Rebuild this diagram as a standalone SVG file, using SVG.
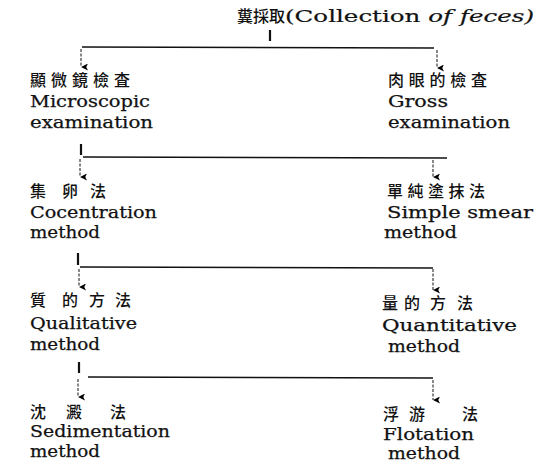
<svg xmlns="http://www.w3.org/2000/svg" width="540" height="464" viewBox="0 0 540 464">
<defs>
<marker id="ah" viewBox="0 0 8 8" refX="4" refY="8" markerWidth="7" markerHeight="7" markerUnits="userSpaceOnUse" orient="auto-start-reverse">
<path d="M0,0 L4,8 L8,0 L4,2 Z" fill="#000"/>
</marker>
<style>
.cjk{font-family:"Noto Sans CJK TC","Noto Sans CJK JP",sans-serif;font-size:16px;font-weight:500;fill:#111}
.en{font-family:"DejaVu Serif","Liberation Serif",serif;font-size:16.5px;fill:#111;stroke:#111;stroke-width:0.25}
.ti{font-family:"DejaVu Serif","Liberation Serif",serif;font-size:17px;fill:#111;stroke:#111;stroke-width:0.2}
.h{stroke:#111;stroke-width:1.5;fill:none}
.t{stroke:#111;stroke-width:2.2;fill:none}
.a{stroke:#111;stroke-width:1;stroke-dasharray:3 1.5;fill:none;marker-end:url(#ah)}
</style>
</defs>
<rect width="540" height="464" fill="#fff"/>
<g id="connectors">
<line class="t" x1="270" y1="30" x2="270" y2="41"/>
<path class="h" d="M82,47 L434,48"/>
<line class="a" x1="81" y1="49" x2="81" y2="67"/>
<line class="a" x1="437" y1="50" x2="437" y2="68"/>
<line class="t" x1="81" y1="144" x2="81" y2="155"/>
<path class="h" d="M83,157 L447,158"/>
<line class="a" x1="80" y1="159" x2="80" y2="177"/>
<line class="a" x1="433" y1="160" x2="433" y2="177"/>
<line class="t" x1="78" y1="253" x2="78" y2="265"/>
<path class="h" d="M80,267 L433,268"/>
<line class="a" x1="79" y1="269" x2="79" y2="287"/>
<line class="a" x1="433" y1="269" x2="433" y2="290"/>
<line class="t" x1="79" y1="362" x2="79" y2="373"/>
<path class="h" d="M88,377 L433,378"/>
<line class="a" x1="78" y1="379" x2="78" y2="397"/>
<line class="a" x1="433" y1="380" x2="433" y2="400"/>
</g>
<g id="n-collection">
<text class="cjk" x="237" y="22">糞採取</text>
<text class="ti" x="285" y="22" textLength="249" lengthAdjust="spacingAndGlyphs">(Collection <tspan font-style="italic">of feces)</tspan></text>
</g>
<g id="n-microscopic">
<text class="cjk" x="30" y="86" textLength="100">顯微鏡檢査</text>
<text class="en" x="30" y="107" textLength="120" lengthAdjust="spacingAndGlyphs">Microscopic</text>
<text class="en" x="30" y="128" textLength="123" lengthAdjust="spacingAndGlyphs">examination</text>
</g>
<g id="n-gross">
<text class="cjk" x="388" y="86" textLength="99">肉眼的檢査</text>
<text class="en" x="388" y="107" textLength="60" lengthAdjust="spacingAndGlyphs">Gross</text>
<text class="en" x="388" y="128" textLength="122" lengthAdjust="spacingAndGlyphs">examination</text>
</g>
<g id="n-concentration">
<text class="cjk" x="30" y="197">集</text>
<text class="cjk" x="62" y="197" font-size="14">卵</text>
<text class="cjk" x="90" y="197">法</text>
<text class="en" x="30" y="218" textLength="127" lengthAdjust="spacingAndGlyphs">Cocentration</text>
<text class="en" x="30" y="238" textLength="70" lengthAdjust="spacingAndGlyphs">method</text>
</g>
<g id="n-simple-smear">
<text class="cjk" x="387" y="197" textLength="98">單純塗抹法</text>
<text class="en" x="387" y="218" textLength="146" lengthAdjust="spacingAndGlyphs">Simple smear</text>
<text class="en" x="384" y="238" textLength="73" lengthAdjust="spacingAndGlyphs">method</text>
</g>
<g id="n-qualitative">
<text class="cjk" x="30" y="306">質</text>
<text class="cjk" x="62" y="306">的</text>
<text class="cjk" x="89" y="306">方</text>
<text class="cjk" x="115" y="306">法</text>
<text class="en" x="30" y="329" textLength="107" lengthAdjust="spacingAndGlyphs">Qualitative</text>
<text class="en" x="30" y="350" textLength="70" lengthAdjust="spacingAndGlyphs">method</text>
</g>
<g id="n-quantitative">
<text class="cjk" x="382" y="309">量</text>
<text class="cjk" x="404" y="309">的</text>
<text class="cjk" x="430" y="309">方</text>
<text class="cjk" x="457" y="309">法</text>
<text class="en" x="382" y="331" textLength="135" lengthAdjust="spacingAndGlyphs">Quantitative</text>
<text class="en" x="388" y="352" textLength="72" lengthAdjust="spacingAndGlyphs">method</text>
</g>
<g id="n-sedimentation">
<text class="cjk" x="30" y="418">沈</text>
<text class="cjk" x="66" y="418">澱</text>
<text class="cjk" x="110" y="418">法</text>
<text class="en" x="30" y="437" textLength="140" lengthAdjust="spacingAndGlyphs">Sedimentation</text>
<text class="en" x="30" y="457" textLength="70" lengthAdjust="spacingAndGlyphs">method</text>
</g>
<g id="n-flotation">
<text class="cjk" x="383" y="420">浮</text>
<text class="cjk" x="409" y="420">游</text>
<text class="cjk" x="462" y="420">法</text>
<text class="en" x="383" y="440" textLength="91" lengthAdjust="spacingAndGlyphs">Flotation</text>
<text class="en" x="388" y="459" textLength="72" lengthAdjust="spacingAndGlyphs">method</text>
</g>
</svg>
